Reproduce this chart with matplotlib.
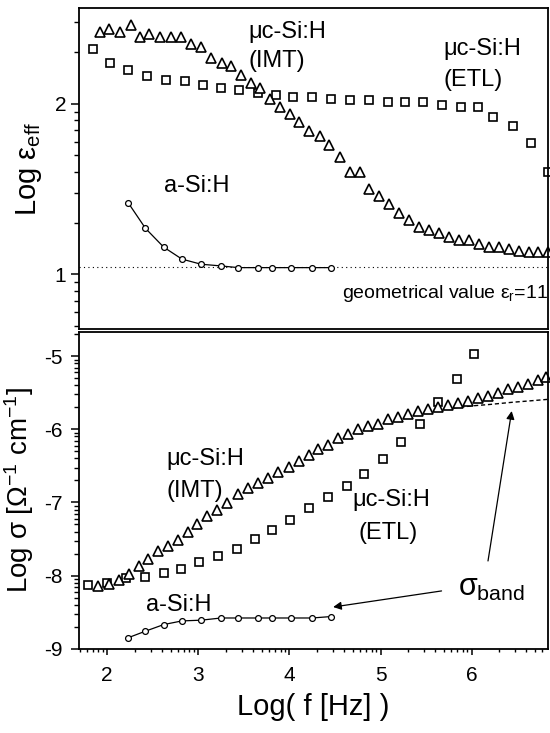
import numpy as np
import matplotlib
matplotlib.use("Agg")
import matplotlib.pyplot as plt
from matplotlib.ticker import FixedLocator, FormatStrFormatter

plt.rcParams['font.family'] = ['Liberation Sans', 'DejaVu Sans']
plt.rcParams['mathtext.fontset'] = 'custom'
plt.rcParams['mathtext.rm'] = 'Liberation Sans'
plt.rcParams['mathtext.it'] = 'Liberation Sans'
plt.rcParams['mathtext.bf'] = 'Liberation Sans:bold'

# ---------------- data: top panel (Log eps_eff) ----------------
imt_eps_x = [1.92, 2.02, 2.14, 2.26, 2.36, 2.46, 2.58, 2.70, 2.81, 2.92, 3.03, 3.14,
             3.26, 3.36, 3.47, 3.58, 3.68, 3.79, 3.90, 4.01, 4.11, 4.22, 4.34, 4.44,
             4.55, 4.66, 4.77, 4.87, 4.98, 5.09, 5.20, 5.31, 5.42, 5.53, 5.64, 5.75,
             5.86, 5.97, 6.08, 6.19, 6.30, 6.41, 6.52, 6.63, 6.73, 6.84]
imt_eps_y = [2.42, 2.44, 2.42, 2.46, 2.39, 2.41, 2.39, 2.39, 2.39, 2.35, 2.33, 2.27,
             2.24, 2.22, 2.17, 2.12, 2.09, 2.03, 1.98, 1.94, 1.89, 1.84, 1.81, 1.76,
             1.69, 1.60, 1.60, 1.50, 1.46, 1.41, 1.36, 1.32, 1.28, 1.26, 1.24, 1.22,
             1.20, 1.20, 1.18, 1.16, 1.16, 1.15, 1.14, 1.13, 1.13, 1.13]

etl_eps_x = [1.84, 2.03, 2.23, 2.44, 2.65, 2.85, 3.05, 3.25, 3.45, 3.66, 3.85, 4.04,
             4.25, 4.46, 4.66, 4.87, 5.08, 5.27, 5.47, 5.68, 5.88, 6.07, 6.24, 6.45,
             6.65, 6.84]
etl_eps_y = [2.32, 2.24, 2.20, 2.16, 2.14, 2.13, 2.11, 2.09, 2.08, 2.06, 2.05, 2.04,
             2.04, 2.03, 2.02, 2.02, 2.01, 2.01, 2.01, 1.99, 1.98, 1.98, 1.92, 1.87,
             1.77, 1.60]

asi_x = [2.23, 2.42, 2.62, 2.82, 3.03, 3.25, 3.44, 3.65, 3.81, 4.02, 4.25, 4.46]
asi_eps_y = [1.42, 1.27, 1.16, 1.09, 1.06, 1.05, 1.04, 1.04, 1.04, 1.04, 1.04, 1.04]

geometric_eps = 11.0

# ---------------- data: bottom panel (Log sigma) ----------------
imt_sig_x = [1.90, 2.02, 2.13, 2.24, 2.35, 2.45, 2.56, 2.67, 2.78, 2.89, 2.99, 3.10,
             3.21, 3.32, 3.44, 3.54, 3.66, 3.77, 3.88, 4.00, 4.11, 4.21, 4.31, 4.42,
             4.53, 4.64, 4.75, 4.86, 4.97, 5.08, 5.19, 5.30, 5.41, 5.52, 5.63, 5.74,
             5.85, 5.96, 6.07, 6.18, 6.29, 6.40, 6.51, 6.62, 6.73, 6.82]
imt_sig_y = [-8.14, -8.12, -8.06, -7.98, -7.87, -7.78, -7.67, -7.59, -7.52, -7.41, -7.29, -7.18,
             -7.10, -7.01, -6.89, -6.80, -6.74, -6.66, -6.59, -6.51, -6.43, -6.35, -6.27, -6.22,
             -6.12, -6.07, -5.99, -5.95, -5.93, -5.86, -5.83, -5.79, -5.75, -5.72, -5.69, -5.67,
             -5.64, -5.61, -5.57, -5.54, -5.50, -5.45, -5.42, -5.38, -5.33, -5.29]

etl_sig_x = [1.79, 2.00, 2.21, 2.41, 2.62, 2.81, 3.01, 3.22, 3.42, 3.62, 3.81, 4.01,
             4.22, 4.42, 4.63, 4.82, 5.03, 5.23, 5.43, 5.63, 5.84, 6.03]
etl_sig_y = [-8.13, -8.10, -8.03, -8.02, -7.97, -7.91, -7.82, -7.73, -7.63, -7.50, -7.38, -7.24,
             -7.08, -6.92, -6.77, -6.61, -6.40, -6.17, -5.93, -5.63, -5.31, -4.97]

asi_sig_y = [-8.85, -8.76, -8.67, -8.62, -8.61, -8.58, -8.58, -8.58, -8.58, -8.58, -8.58, -8.56]

band_x = [5.80, 6.00, 6.20, 6.45, 6.65, 6.84]
band_y = [-5.71, -5.68, -5.66, -5.63, -5.61, -5.59]

x_ticks = [2, 3, 4, 5, 6]
eps_ticks = [1, 2]
sig_ticks = [-9, -8, -7, -6, -5]

XLIM = (1.69, 6.84)
EPS_LIM = (0.68, 2.56)
SIG_LIM = (-9.0, -4.67)


def log_minor(lo, hi):
    out = []
    for n in range(int(np.floor(lo)) - 1, int(np.ceil(hi)) + 1):
        for k in range(2, 10):
            v = n + np.log10(k)
            if lo <= v <= hi:
                out.append(v)
    return out


fig = plt.figure(figsize=(5.5, 7.33), dpi=100)
ax1 = fig.add_axes([0.1436, 0.551, 0.853, 0.438])
ax2 = fig.add_axes([0.1436, 0.115, 0.853, 0.432])

mk = dict(linestyle='none', markerfacecolor='white', markeredgecolor='black',
          markeredgewidth=1.2, clip_on=False)

LBL = 17

# top panel
ax1.axhline(np.log10(geometric_eps), color='black', linestyle=(0, (1, 3)), lw=0.8)
ax1.plot(etl_eps_x, etl_eps_y, marker='s', markersize=6.3, **mk)
ax1.plot(imt_eps_x, imt_eps_y, marker='^', markersize=7.8, **mk)
ax1.plot(asi_x, asi_eps_y, color='black', lw=0.9, marker='o', markersize=4.2,
         markerfacecolor='white', markeredgecolor='black', markeredgewidth=0.9)

ax1.text(3.55, 2.42, 'μc-Si:H', fontsize=LBL, va='center', ha='left')
ax1.text(3.55, 2.25, '(IMT)', fontsize=LBL, va='center', ha='left')
ax1.text(5.69, 2.32, 'μc-Si:H', fontsize=LBL, va='center', ha='left')
ax1.text(5.69, 2.14, '(ETL)', fontsize=LBL, va='center', ha='left')
ax1.text(2.62, 1.52, 'a-Si:H', fontsize=LBL, va='center', ha='left')
ax1.text(4.58, 0.89, r'geometrical value $\varepsilon_{\rm r}$=11', fontsize=14,
         va='center', ha='left')

ax1.set_xlim(*XLIM)
ax1.set_ylim(*EPS_LIM)
ax1.set_xticks([])
ax1.yaxis.set_major_locator(FixedLocator(eps_ticks))
ax1.yaxis.set_minor_locator(FixedLocator(log_minor(*EPS_LIM)))
ax1.yaxis.set_major_formatter(FormatStrFormatter('%d'))
ax1.set_ylabel(r'Log $\varepsilon_{\rm eff}$', fontsize=21)
ax1.yaxis.set_label_coords(-0.075, 0.5)

# bottom panel
ax2.plot(band_x, band_y, color='black', lw=1.0, linestyle=(0, (3, 2)))
ax2.plot(etl_sig_x, etl_sig_y, marker='s', markersize=6.3, **mk)
ax2.plot(imt_sig_x, imt_sig_y, marker='^', markersize=7.8, **mk)
ax2.plot(asi_x, asi_sig_y, color='black', lw=0.9, marker='o', markersize=4.2,
         markerfacecolor='white', markeredgecolor='black', markeredgewidth=0.9)

ax2.text(2.65, -6.40, 'μc-Si:H', fontsize=LBL, va='center', ha='left')
ax2.text(2.65, -6.85, '(IMT)', fontsize=LBL, va='center', ha='left')
ax2.text(4.69, -6.97, 'μc-Si:H', fontsize=LBL, va='center', ha='left')
ax2.text(4.76, -7.42, '(ETL)', fontsize=LBL, va='center', ha='left')
ax2.text(2.43, -8.40, 'a-Si:H', fontsize=LBL, va='center', ha='left')
ax2.text(5.85, -8.17, r'$\sigma_{\rm band}$', fontsize=22, va='center', ha='left')

arrow = dict(arrowstyle='-|>', color='black', lw=0.9, mutation_scale=12, shrinkA=0, shrinkB=0)
ax2.annotate('', xy=(4.48, -8.43), xytext=(5.67, -8.21), arrowprops=arrow)
ax2.annotate('', xy=(6.44, -5.75), xytext=(6.18, -7.80), arrowprops=arrow)

ax2.set_xlim(*XLIM)
ax2.set_ylim(*SIG_LIM)
ax2.xaxis.set_major_locator(FixedLocator(x_ticks))
ax2.xaxis.set_minor_locator(FixedLocator(log_minor(*XLIM)))
ax2.xaxis.set_major_formatter(FormatStrFormatter('%d'))
ax2.yaxis.set_major_locator(FixedLocator(sig_ticks))
ax2.yaxis.set_minor_locator(FixedLocator(log_minor(*SIG_LIM)))
ax2.yaxis.set_major_formatter(FormatStrFormatter('%d'))
ax2.set_ylabel(r'Log $\sigma$ [$\Omega^{-1}$ cm$^{-1}$]', fontsize=20)
ax2.yaxis.set_label_coords(-0.092, 0.5)
ax2.set_xlabel('Log( f [Hz] )', fontsize=21, labelpad=6)

for ax in (ax1, ax2):
    for s in ax.spines.values():
        s.set_linewidth(1.3)
    ax.tick_params(which='major', direction='out', length=6, width=1.1, labelsize=15)
    ax.tick_params(which='minor', direction='out', length=3.5, width=1.0)
    ax.tick_params(axis='x', which='both', top=False)
    ax.tick_params(axis='y', which='both', right=False)
ax1.tick_params(axis='x', which='both', bottom=False)
ax1.tick_params(axis='y', which='major', pad=3)
ax2.tick_params(axis='y', which='major', pad=6)
ax2.tick_params(axis='x', which='major', length=4.5, pad=8)
ax2.tick_params(axis='x', which='minor', length=2.5)

fig.savefig('out.png', dpi=100)
